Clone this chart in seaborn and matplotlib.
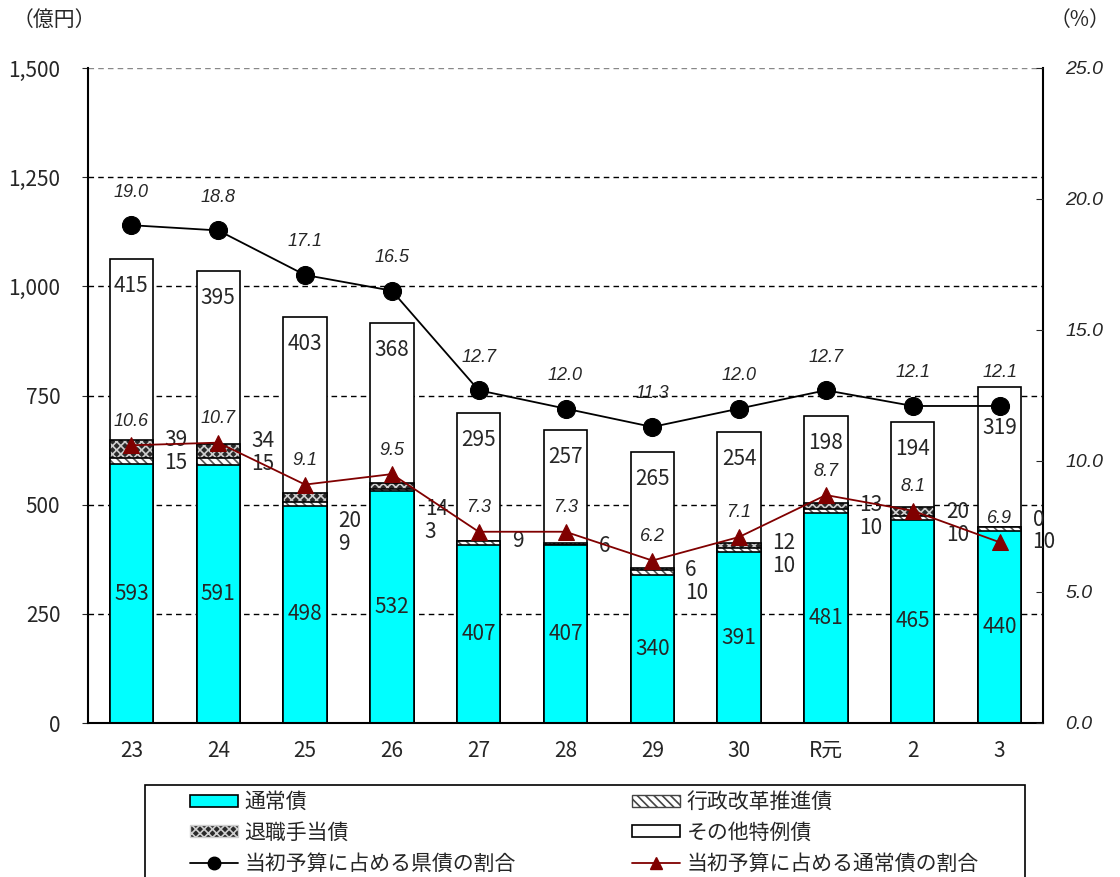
import numpy as np
import pandas as pd
import matplotlib
matplotlib.use("Agg")
import matplotlib.pyplot as plt
import seaborn as sns
from matplotlib.patches import Patch, Rectangle
from matplotlib.lines import Line2D

# 年度別 当初予算の県債発行額（億円）と割合（%）
years = ["23", "24", "25", "26", "27", "28", "29", "30", "R元", "2", "3"]
regular = [593, 591, 498, 532, 407, 407, 340, 391, 481, 465, 440]          # 通常債
admin_reform = [15, 15, 9, 3, 9, None, 10, 10, 10, 10, 10]                # 行政改革推進債
retirement = [39, 34, 20, 14, None, 6, 6, 12, 13, 20, 0]                  # 退職手当債
other_special = [415, 395, 403, 368, 295, 257, 265, 254, 198, 194, 319]   # その他特例債
ratio_all = [19.0, 18.8, 17.1, 16.5, 12.7, 12.0, 11.3, 12.0, 12.7, 12.1, 12.1]
ratio_regular = [10.6, 10.7, 9.1, 9.5, 7.3, 7.3, 6.2, 7.1, 8.7, 8.1, 6.9]
left_ticks = [0, 250, 500, 750, 1000, 1250, 1500]
right_ticks = [0.0, 5.0, 10.0, 15.0, 20.0, 25.0]

# label nudges (pixels, positive = downward) for the small side labels
side_nudge = [0, -3, 28, 26, 0, 3, 2, 0, 2, 5, -7]
top_nudge = [0, 0, 0, 0, 0, 0, 0, 0, 0, 0, 14]

sns.set_style("white")
NARROW = ["Liberation Sans Narrow", "Noto Sans CJK JP"]
REGULAR = ["Liberation Sans", "Noto Sans CJK JP"]
plt.rcParams["font.family"] = NARROW
plt.rcParams["hatch.linewidth"] = 1.2

W, H = 1120, 877
fig = plt.figure(figsize=(W / 100, H / 100), dpi=100)
ax = fig.add_axes([88 / W, 1 - 723 / H, (1043 - 88) / W, (723 - 68) / H])

n = len(years)
adm = np.array([0 if v is None else v for v in admin_reform], dtype=float)
ret = np.array([0 if v is None else v for v in retirement], dtype=float)
reg = np.array(regular, dtype=float)
oth = np.array(other_special, dtype=float)

# cumulative stack levels
lvl1 = reg
lvl2 = lvl1 + adm
lvl3 = lvl2 + ret
lvl4 = lvl3 + oth
df = pd.DataFrame({"year": years, "l1": lvl1, "l2": lvl2, "l3": lvl3, "l4": lvl4})
order = years
bw = 0.5
CYAN = "#00FFFF"
DARKRED = "#800000"
LW = 1.2
FS = 15

# gridlines
for t in left_ticks[1:]:
    ax.axhline(t, color="#888888" if t == 1500 else "black", lw=1.0,
               ls=(0, (4, 3)), zorder=0)

# stacked bars drawn from the tallest level down
sns.barplot(data=df, x="year", y="l4", order=order, color="white",
            width=bw, edgecolor="black", linewidth=LW, saturation=1,
            ax=ax, zorder=2)
# 退職手当債: dark cross hatch
sns.barplot(data=df, x="year", y="l3", order=order, color="#2a2a2a",
            width=bw, edgecolor="#cfcfcf", linewidth=0, hatch="xxxx",
            saturation=1, ax=ax, zorder=2)
sns.barplot(data=df, x="year", y="l3", order=order, fill=False,
            width=bw, edgecolor="black", linewidth=LW, ax=ax, zorder=2)
# 行政改革推進債: light diagonal hatch
sns.barplot(data=df, x="year", y="l2", order=order, color="white",
            width=bw, edgecolor="#555555", linewidth=0, hatch="\\\\\\\\",
            saturation=1, ax=ax, zorder=2)
sns.barplot(data=df, x="year", y="l2", order=order, fill=False,
            width=bw, edgecolor="black", linewidth=LW, ax=ax, zorder=2)
# 通常債
sns.barplot(data=df, x="year", y="l1", order=order, color=CYAN,
            width=bw, edgecolor="black", linewidth=LW, saturation=1,
            ax=ax, zorder=2)

ax.set_xlim(-0.5, n - 0.5)
ax.set_ylim(0, 1500)
ax.set_yticks(left_ticks)
ax.set_yticklabels([f"{t:,}" for t in left_ticks], fontsize=FS)
ax.set_xticks(range(n))
ax.set_xticklabels(years, fontsize=FS)
ax.set_xlabel("")
ax.set_ylabel("")
ax.tick_params(axis="x", length=0, pad=12)
ax.tick_params(axis="y", length=4, direction="out", pad=16)
for s in ["left", "bottom", "right"]:
    ax.spines[s].set_color("black")
    ax.spines[s].set_linewidth(1.5)
ax.spines["top"].set_visible(False)

px = 72 / 100  # points per pixel

for i in range(n):
    # 通常債 value in the middle of its segment
    ax.text(i, reg[i] / 2, f"{regular[i]}", ha="center", va="center",
            fontsize=FS, zorder=5)
    # その他特例債 value near the top of its segment
    ax.annotate(f"{other_special[i]}", xy=(i, lvl4[i]),
                xytext=(0, -(27 + top_nudge[i]) * px),
                textcoords="offset points", ha="center", va="center",
                fontsize=FS, zorder=5)
    # small values to the right of the bar
    labels = []
    if retirement[i] is not None:
        labels.append(retirement[i])
    if admin_reform[i] is not None:
        labels.append(admin_reform[i])
    for k, v in enumerate(labels):
        dy = side_nudge[i] + 23 * k
        ax.annotate(f"{v}", xy=(i + 0.38, lvl3[i]), xytext=(0, -dy * px),
                    textcoords="offset points", ha="left", va="center",
                    fontsize=FS, zorder=5)

# ratio lines on the right axis
ax2 = ax.twinx()
xpos = np.arange(n)
lines = pd.DataFrame({"x": xpos, "all": ratio_all, "reg": ratio_regular})
sns.lineplot(data=lines, x="x", y="all", color="black", lw=1.3,
             marker="o", markersize=13, markeredgecolor="black",
             sort=False, ax=ax2, zorder=4)
sns.lineplot(data=lines, x="x", y="reg", color=DARKRED, lw=1.3,
             marker="^", markersize=11, markeredgecolor=DARKRED,
             sort=False, ax=ax2, zorder=4)
ax2.set_ylim(0, 25)
ax2.set_xlim(-0.5, n - 0.5)
ax2.set_yticks(right_ticks)
ax2.set_yticklabels([f"{t:.1f}" for t in right_ticks], fontsize=14,
                    style="italic", family=REGULAR)
ax2.tick_params(axis="y", direction="in", length=5, pad=16)
ax2.set_ylabel("")
ax2.set_xlabel("")
for s in ax2.spines.values():
    s.set_visible(False)

for i in range(n):
    ax2.annotate(f"{ratio_all[i]:.1f}", xy=(i, ratio_all[i]),
                 xytext=(0, 33 * px), textcoords="offset points",
                 ha="center", va="center", fontsize=13, style="italic",
                 family=REGULAR, zorder=6)
    ax2.annotate(f"{ratio_regular[i]:.1f}", xy=(i, ratio_regular[i]),
                 xytext=(0, 24 * px), textcoords="offset points",
                 ha="center", va="center", fontsize=13, style="italic",
                 family=REGULAR, zorder=6)

# unit labels
fig.text(13 / W, 1 - 20 / H, "（億円）", fontsize=FS, ha="left", va="center")
fig.text(1110 / W, 1 - 20 / H, "（%）", fontsize=FS, ha="right", va="center")

# legend box and entries
fig.patches.append(Rectangle((145 / W, -0.01), (1025 - 145) / W,
                             (1 - 785 / H) + 0.01, transform=fig.transFigure,
                             facecolor="white", edgecolor="black", lw=1.2))
handles = [
    Patch(facecolor=CYAN, edgecolor="black", lw=1.2),
    Patch(facecolor="#2a2a2a", edgecolor="#cfcfcf", hatch="xxxx", lw=1.0),
    Line2D([], [], color="black", lw=1.3, marker="o", markersize=9),
    Patch(facecolor="white", edgecolor="#444444", hatch="\\\\\\\\", lw=1.0),
    Patch(facecolor="white", edgecolor="black", lw=1.2),
    Line2D([], [], color=DARKRED, lw=1.3, marker="^", markersize=9),
]
labels = ["通常債", "退職手当債", "当初予算に占める県債の割合",
          "行政改革推進債", "その他特例債", "当初予算に占める通常債の割合"]
fig.legend(handles, labels, loc="upper left",
           bbox_to_anchor=(190 / W, 1 - 791 / H), ncol=2, frameon=False,
           fontsize=FS, handlelength=2.3, handleheight=0.5,
           handletextpad=0.3, labelspacing=0.42, columnspacing=5.6,
           borderpad=0, borderaxespad=0)

fig.savefig("out.png", dpi=100)
